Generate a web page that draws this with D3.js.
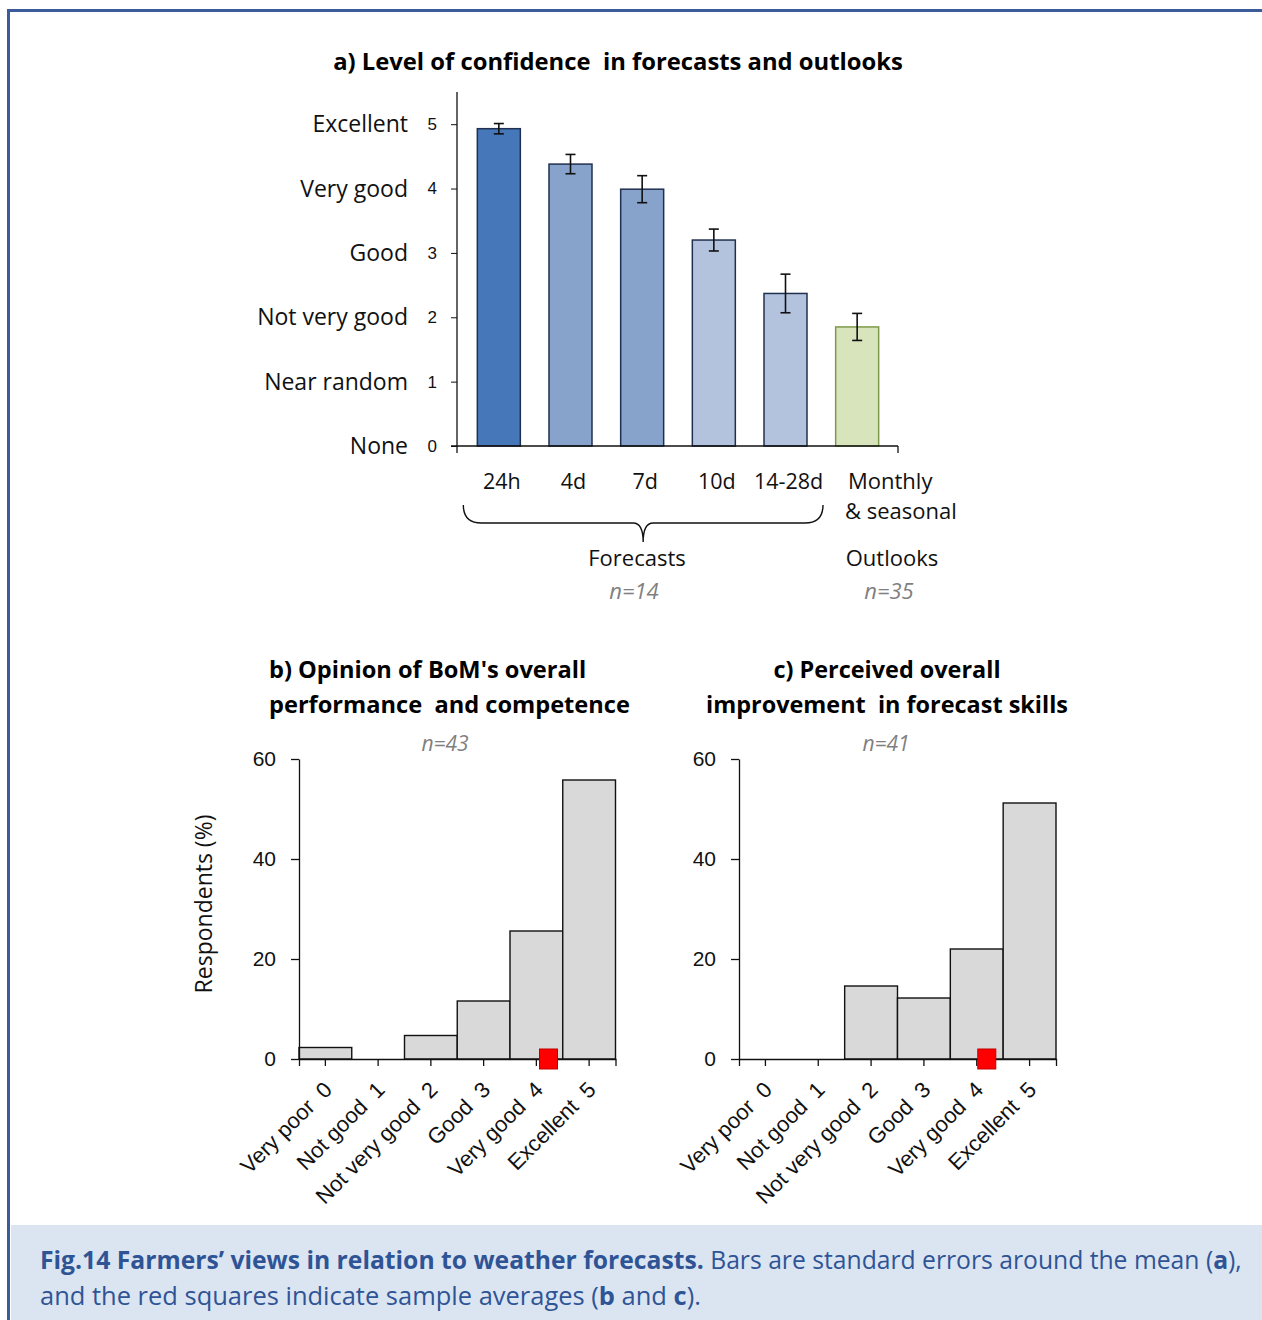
<!DOCTYPE html>
<html>
<head>
<meta charset="utf-8">
<script src="https://cdn.jsdelivr.net/npm/d3@7"></script>
<style>
  body { margin: 0; background: #fff; }
  svg { display: block; font-family: "Open Sans", "DejaVu Sans", sans-serif; }
  text { white-space: pre; }
</style>
</head>
<body>
<div id="fig"></div>
<script>

// ---- panel a data ----
var leadTimes = ["24h", "4d", "7d", "10d", "14-28d", "Monthly"];
var confMean = [4.93, 4.38, 3.99, 3.20, 2.37, 1.85];
var confSE = [0.08, 0.15, 0.21, 0.17, 0.30, 0.21];
var confLevels = ["None", "Near random", "Not very good", "Good", "Very good", "Excellent"];
var confFill = ["#4677b8", "#87a2cb", "#87a2cb", "#b4c3dd", "#b4c3dd", "#d7e4bc"];
var confStroke = ["#1f3050", "#1f3050", "#1f3050", "#1f3050", "#1f3050", "#7d9a48"];

// ---- panels b & c data ----
var ratingCats = ["Very poor  0", "Not good  1", "Not very good  2", "Good  3", "Very good  4", "Excellent  5"];
var opinionPct = [2.3, 0, 4.7, 11.6, 25.6, 55.8];
var improvePct = [0, 0, 14.6, 12.2, 22.0, 51.2];
var opinionMean = 4.23;
var improveMean = 4.19;
var pctTicks = [0, 20, 40, 60];

var W = 1262, H = 1320;
var navy = "#2f5496";

var svg = d3.select("#fig").append("svg")
    .attr("width", W)
    .attr("height", H);

// frame + caption box
svg.append("rect").attr("x", 11).attr("y", 1225).attr("width", W - 11).attr("height", H - 1225)
    .attr("fill", "#dbe5f1");
svg.append("line").attr("x1", 7).attr("x2", W).attr("y1", 10.5).attr("y2", 10.5)
    .attr("stroke", "#3b5b9a").attr("stroke-width", 3);
svg.append("line").attr("x1", 8.5).attr("x2", 8.5).attr("y1", 9).attr("y2", H)
    .attr("stroke", "#3b5b9a").attr("stroke-width", 3);

// shrink/grow a text element so it spans a given width
function fitWidth(t, target) {
    var fs = parseFloat(t.attr("font-size"));
    var len = t.node().getComputedTextLength();
    t.attr("font-size", (fs * target / len).toFixed(2));
}

// =============== panel a =================
var yA = d3.scaleLinear().domain([0, 5.5]).range([446, 92]);
var xA = d3.scaleBand().domain(leadTimes).range([463, 893])
    .paddingInner(0.4).paddingOuter(0.2);

var ta = svg.append("text").attr("x", 618).attr("y", 70)
    .attr("text-anchor", "middle").attr("font-weight", "bold").attr("font-size", 23)
    .text("a) Level of confidence  in forecasts and outlooks");
fitWidth(ta, 570);

var gA = svg.append("g");

gA.selectAll(".barA")
    .data(confMean)
    .enter().append("rect")
    .attr("class", "barA")
    .attr("x", function(d, i) { return xA(leadTimes[i]); })
    .attr("y", function(d) { return yA(d); })
    .attr("width", xA.bandwidth())
    .attr("height", function(d) { return yA(0) - yA(d); })
    .attr("fill", function(d, i) { return confFill[i]; })
    .attr("stroke", function(d, i) { return confStroke[i]; })
    .attr("stroke-width", 1.5);

// error bars
var eb = gA.selectAll(".err")
    .data(confMean)
    .enter().append("g")
    .attr("class", "err")
    .attr("stroke", "#111")
    .attr("stroke-width", 1.6);
eb.append("line")
    .attr("x1", function(d, i) { return xA(leadTimes[i]) + xA.bandwidth() / 2; })
    .attr("x2", function(d, i) { return xA(leadTimes[i]) + xA.bandwidth() / 2; })
    .attr("y1", function(d, i) { return yA(d + confSE[i]); })
    .attr("y2", function(d, i) { return yA(d - confSE[i]); });
[1, -1].forEach(function(sgn) {
    eb.append("line")
        .attr("x1", function(d, i) { return xA(leadTimes[i]) + xA.bandwidth() / 2 - 5; })
        .attr("x2", function(d, i) { return xA(leadTimes[i]) + xA.bandwidth() / 2 + 5; })
        .attr("y1", function(d, i) { return yA(d + sgn * confSE[i]); })
        .attr("y2", function(d, i) { return yA(d + sgn * confSE[i]); });
});

// y axis
var axA = gA.append("g")
    .attr("transform", "translate(457,0)")
    .call(d3.axisLeft(yA).tickValues([0, 1, 2, 3, 4, 5]).tickSize(6).tickPadding(14).tickFormat(d3.format("d")));
axA.select(".domain").remove();
axA.selectAll("text").attr("font-size", 17).attr("fill", "#111").attr("font-family", null);
axA.selectAll("line").attr("stroke", "#111");
gA.append("line").attr("x1", 457).attr("x2", 457).attr("y1", yA(5.5)).attr("y2", yA(0) + 7)
    .attr("stroke", "#111").attr("stroke-width", 1.3);

gA.selectAll(".lvl")
    .data(confLevels)
    .enter().append("text")
    .attr("class", "lvl")
    .attr("x", 408)
    .attr("y", function(d, i) { return yA(i) + 8; })
    .attr("text-anchor", "end")
    .attr("font-size", 23)
    .attr("fill", "#111")
    .text(function(d) { return d; });

// x axis line
gA.append("line").attr("x1", 451).attr("x2", 898).attr("y1", yA(0)).attr("y2", yA(0))
    .attr("stroke", "#111").attr("stroke-width", 1.3);
gA.append("line").attr("x1", 898).attr("x2", 898).attr("y1", yA(0)).attr("y2", yA(0) + 7)
    .attr("stroke", "#111").attr("stroke-width", 1.3);

// x labels
gA.selectAll(".lead")
    .data(leadTimes.slice(0, 5))
    .enter().append("text")
    .attr("class", "lead")
    .attr("x", function(d) { return xA(d) + xA.bandwidth() / 2 + 3; })
    .attr("y", 489)
    .attr("text-anchor", "middle")
    .attr("font-size", 21.5)
    .attr("fill", "#111")
    .text(function(d) { return d; });
gA.append("text").attr("x", 848).attr("y", 489).attr("font-size", 22).attr("fill", "#111").text("Monthly");
gA.append("text").attr("x", 845).attr("y", 519).attr("font-size", 22).attr("fill", "#111").text("& seasonal");

// brace under the forecasts
var bL = xA("24h") - 14,
    bR = xA("14-28d") + xA.bandwidth() + 16,
    bM = (bL + bR) / 2,
    bTop = 505, bMid = 523, bTip = 542;
var bp = d3.path();
bp.moveTo(bL, bTop);
bp.quadraticCurveTo(bL, bMid, bL + 18, bMid);
bp.lineTo(bM - 10, bMid);
bp.quadraticCurveTo(bM, bMid, bM, bTip);
bp.quadraticCurveTo(bM, bMid, bM + 10, bMid);
bp.lineTo(bR - 18, bMid);
bp.quadraticCurveTo(bR, bMid, bR, bTop);
gA.append("path").attr("d", bp.toString()).attr("fill", "none")
    .attr("stroke", "#111").attr("stroke-width", 1.4);

gA.append("text").attr("x", 637).attr("y", 566).attr("text-anchor", "middle")
    .attr("font-size", 22).attr("fill", "#111").text("Forecasts");
gA.append("text").attr("x", 634).attr("y", 599).attr("text-anchor", "middle")
    .attr("font-size", 22).attr("font-style", "italic").attr("fill", "#7f7f7f").text("n=14");
gA.append("text").attr("x", 892).attr("y", 566).attr("text-anchor", "middle")
    .attr("font-size", 22).attr("fill", "#111").text("Outlooks");
gA.append("text").attr("x", 889).attr("y", 599).attr("text-anchor", "middle")
    .attr("font-size", 22).attr("font-style", "italic").attr("fill", "#7f7f7f").text("n=35");

// =============== panels b & c =================
function drawHist(x0, x1, values, mean, nLabel, nX) {
    var y = d3.scaleLinear().domain([0, 60]).range([1059, 759]);
    var x = d3.scaleBand().domain(ratingCats).range([x0, x1]).padding(0);
    var xm = d3.scaleLinear().domain([0, 5])
        .range([x(ratingCats[0]) + x.bandwidth() / 2, x(ratingCats[5]) + x.bandwidth() / 2]);

    var g = svg.append("g");

    g.selectAll(".bar")
        .data(values)
        .enter().append("rect")
        .attr("class", "bar")
        .attr("x", function(d, i) { return x(ratingCats[i]); })
        .attr("y", function(d) { return y(d); })
        .attr("width", x.bandwidth())
        .attr("height", function(d) { return y(0) - y(d); })
        .attr("fill", "#d9d9d9")
        .attr("stroke", function(d) { return d > 0 ? "#111" : "none"; })
        .attr("stroke-width", 1.4);

    var ay = g.append("g")
        .attr("transform", "translate(" + x0 + ",0)")
        .call(d3.axisLeft(y).tickValues(pctTicks).tickSize(8).tickPadding(15).tickSizeOuter(0));
    ay.selectAll("text").attr("font-size", 21).attr("fill", "#111").attr("font-family", null);
    ay.selectAll("line, path").attr("stroke", "#111").attr("stroke-width", 1.3);

    var ax = g.append("g")
        .attr("transform", "translate(0," + y(0) + ")")
        .call(d3.axisBottom(x).tickSize(7).tickSizeOuter(7));
    ax.selectAll("line, path").attr("stroke", "#111").attr("stroke-width", 1.3);
    ax.selectAll("text")
        .attr("font-size", 22)
        .attr("fill", "#111")
        .attr("font-family", null)
        .attr("text-anchor", "end")
        .attr("y", 0)
        .attr("dy", 0)
        .attr("transform", "translate(8,32) rotate(-45)");

    // sample mean marker
    g.append("rect")
        .attr("x", xm(mean) - 9)
        .attr("y", y(0) - 10)
        .attr("width", 18)
        .attr("height", 20)
        .attr("fill", "#ff0000")
        .attr("stroke", "#c00000")
        .attr("stroke-width", 1);

    g.append("text").attr("x", nX).attr("y", 751).attr("text-anchor", "middle")
        .attr("font-size", 21).attr("font-style", "italic").attr("fill", "#7f7f7f").text(nLabel);
    return g;
}

drawHist(299, 615.5, opinionPct, opinionMean, "n=43", 445);
drawHist(739, 1056, improvePct, improveMean, "n=41", 886);

var tb1 = svg.append("text").attr("x", 269).attr("y", 678).attr("font-weight", "bold").attr("font-size", 23)
    .text("b) Opinion of BoM's overall");
var tb2 = svg.append("text").attr("x", 269).attr("y", 713).attr("font-weight", "bold").attr("font-size", 23)
    .text("performance  and competence");
fitWidth(tb2, 361);
tb1.attr("font-size", tb2.attr("font-size"));

var tc1 = svg.append("text").attr("x", 887).attr("y", 678).attr("text-anchor", "middle")
    .attr("font-weight", "bold").attr("font-size", 23).text("c) Perceived overall");
var tc2 = svg.append("text").attr("x", 887).attr("y", 713).attr("text-anchor", "middle")
    .attr("font-weight", "bold").attr("font-size", 23).text("improvement  in forecast skills");
fitWidth(tc2, 362);
tc1.attr("font-size", tc2.attr("font-size"));

svg.append("text")
    .attr("transform", "translate(212,904) rotate(-90)")
    .attr("text-anchor", "middle").attr("font-size", 23).attr("fill", "#111")
    .text("Respondents (%)");

// =============== caption =================
var cap1 = svg.append("text").attr("x", 40).attr("y", 1269).attr("font-size", 24).attr("fill", navy);
cap1.append("tspan").attr("font-weight", "bold").text("Fig.14 Farmers\u2019 views in relation to weather forecasts.");
cap1.append("tspan").text(" Bars are standard errors around the mean (");
cap1.append("tspan").attr("font-weight", "bold").text("a");
cap1.append("tspan").text("),");
fitWidth(cap1, 1202);

var cap2 = svg.append("text").attr("x", 40).attr("y", 1305).attr("font-size", 24).attr("fill", navy);
cap2.append("tspan").text("and the red squares indicate sample averages (");
cap2.append("tspan").attr("font-weight", "bold").text("b");
cap2.append("tspan").text(" and ");
cap2.append("tspan").attr("font-weight", "bold").text("c");
cap2.append("tspan").text(").");
fitWidth(cap2, 661);

</script>
</body>
</html>
